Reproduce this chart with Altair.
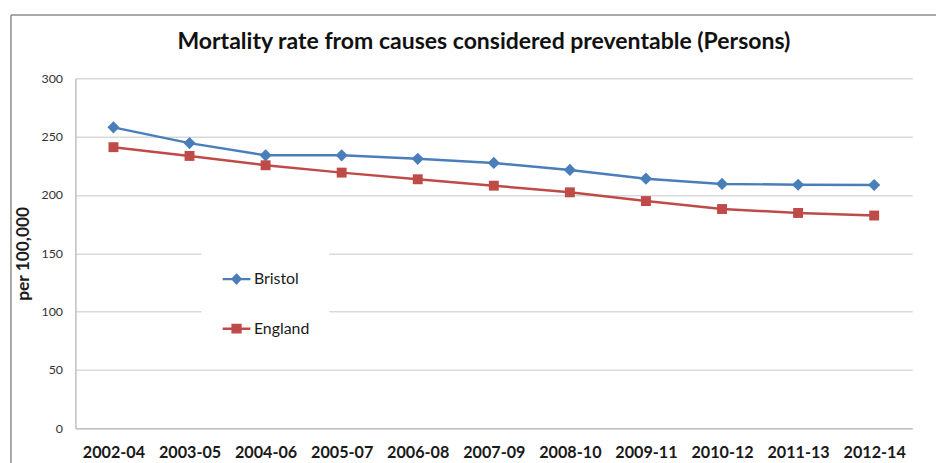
import altair as alt
import pandas as pd

periods = ["2002-04", "2003-05", "2004-06", "2005-07", "2006-08", "2007-09",
           "2008-10", "2009-11", "2010-12", "2011-13", "2012-14"]
bristol = [258, 244.5, 234, 234, 231, 227.5, 221.5, 214, 209.5, 208.8, 208.6]
england = [241, 233.5, 225.5, 219.2, 213.5, 208, 202.3, 194.8, 188, 184.6, 182.4]
series = ["Bristol", "England"]
colors = ["#4A7EBB", "#BE4B48"]
shapes = ["diamond", "square"]
marker_sizes = [150, 100]
y_ticks = [0, 50, 100, 150, 200, 250, 300]

rows = []
for s, vals in zip(series, [bristol, england]):
    for p, v in zip(periods, vals):
        rows.append({"period": p, "series": s, "rate": v})
df = pd.DataFrame(rows)

FONT = "Lato"

legend_diamond = "M-1,0H1M0,-0.3L0.28,0L0,0.3L-0.28,0Z"
legend_square = "M-1,0H1M-0.28,-0.26H0.28V0.26H-0.28Z"


def per_series(a, b):
    return alt.ExprRef(f"datum.value == '{series[0]}' ? '{a}' : '{b}'")


legend = alt.Legend(
    title=None, orient="none", legendX=127, legendY=167, direction="vertical",
    fillColor="white", padding=20, rowPadding=25, symbolSize=784,
    symbolStrokeWidth=2.5, labelFont=FONT, labelFontSize=16, labelColor="#1a1a1a",
    labelOffset=2, symbolOpacity=1,
    symbolType=per_series(legend_diamond, legend_square),
    symbolFillColor=per_series(colors[0], colors[1]),
    symbolStrokeColor=per_series(colors[0], colors[1]),
)

cscale = alt.Scale(domain=series, range=colors)

x = alt.X("period:N", sort=periods, scale=alt.Scale(padding=0.5),
          axis=alt.Axis(title=None, labelAngle=0, labelFont=FONT, labelFontSize=16.3,
                        labelFontWeight="bold", labelColor="#1a1a1a", labelPadding=16,
                        ticks=False, domain=True, domainColor="#bfbfbf", domainWidth=1.5,
                        grid=False))
y = alt.Y("rate:Q", scale=alt.Scale(domain=[0, 300], nice=False),
          axis=alt.Axis(values=y_ticks, title="per 100,000", titleFont=FONT,
                        titleFontSize=17.5, titleFontWeight="bold", titleColor="#1a1a1a",
                        titlePadding=9, labelFont=FONT, labelFontSize=12.5,
                        labelColor="#333333", labelPadding=13, ticks=False,
                        domain=True, domainColor="#bfbfbf", domainWidth=1.5,
                        grid=True, gridColor="#d9d9d9", gridWidth=1.5))

base = alt.Chart(df)
lines = base.mark_line(strokeWidth=2.5).encode(
    x=x, y=y, color=alt.Color("series:N", scale=cscale, legend=legend))

point_layers = [
    base.transform_filter(alt.datum.series == s)
        .mark_point(filled=True, opacity=1, shape=sh, size=sz, color=c)
        .encode(x=x, y=y)
    for s, c, sh, sz in zip(series, colors, shapes, marker_sizes)
]

one = alt.Chart(pd.DataFrame({"a": [0]}))
frame_v = one.mark_rule(color="#8c8c8c", strokeWidth=1.5).encode(
    x=alt.value(-65), y=alt.value(-64), y2=alt.value(420))
frame_h = one.mark_rule(color="#8c8c8c", strokeWidth=1.5).encode(
    x=alt.value(-65), x2=alt.value(900), y=alt.value(-64))

chart = alt.layer(frame_v, frame_h, lines, *point_layers).properties(
    width=844, height=353,
    title=alt.Title("Mortality rate from causes considered preventable (Persons)",
                    font=FONT, fontSize=23.2, fontWeight="bold", color="#111111",
                    anchor="middle", dx=-10, dy=50, offset=10),
    autosize=alt.AutoSizeParams(type="none"),
    padding={"left": 68, "top": 69, "right": 24, "bottom": 33},
).configure_view(strokeWidth=0)

chart.save("out.html", embed_options={"renderer": "svg", "actions": False})
